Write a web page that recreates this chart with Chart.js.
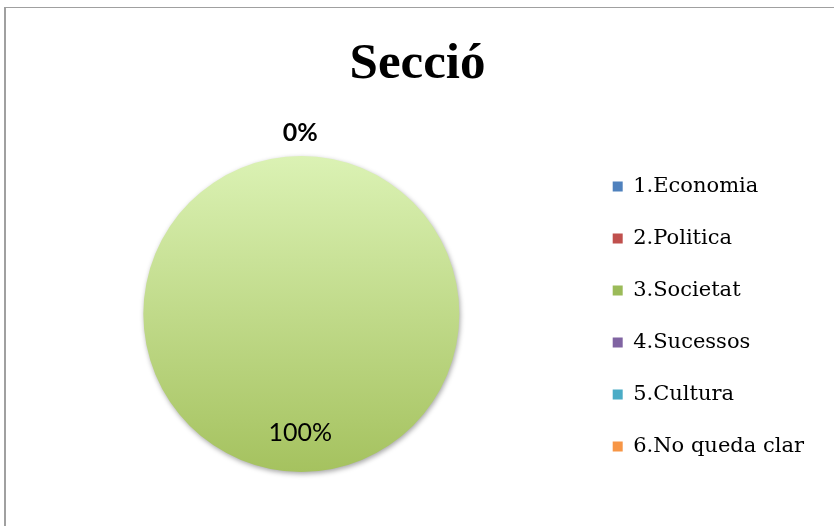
<!DOCTYPE html>
<html>
<head>
<meta charset="utf-8">
<script src="https://cdn.jsdelivr.net/npm/chart.js@4/dist/chart.umd.min.js"></script>
<style>
html,body{margin:0;padding:0;background:#fff;}
#wrap{width:834px;height:526px;position:relative;}
</style>
</head>
<body>
<div id="wrap"><canvas id="c" width="834" height="526"></canvas></div>
<script>
const chartTitle = "Secció";
const categories = ["1.Economia", "2.Politica", "3.Societat", "4.Sucessos", "5.Cultura", "6.No queda clar"];
const percentages = [0, 0, 100, 0, 0, 0];
const sliceColors = ["#4F81BD", "#C0504D", "#9BBB59", "#8064A2", "#4BACC6", "#F79646"];
const sliceLight = ["#A9C4EB", "#EFA3A1", "#DBF2B4", "#C9B8E0", "#A6E3F2", "#FCC89C"];
const sliceDark = ["#4A7EBB", "#BE4B48", "#A5C25F", "#7D60A0", "#45A8C3", "#F58C3C"];

const framePlugin = {
  id: 'frame',
  beforeDraw(chart) {
    const ctx = chart.ctx;
    ctx.save();
    ctx.fillStyle = '#fff';
    ctx.fillRect(0, 0, chart.width, chart.height);
    ctx.strokeStyle = '#a0a0a0';
    ctx.lineWidth = 1;
    ctx.beginPath();
    ctx.moveTo(4, 7.5); ctx.lineTo(chart.width, 7.5);
    ctx.stroke();
    ctx.lineWidth = 2;
    ctx.beginPath();
    ctx.moveTo(5, 7); ctx.lineTo(5, chart.height);
    ctx.stroke();
    ctx.restore();
  }
};

const shadowPlugin = {
  id: 'pieShadow',
  beforeDatasetsDraw(chart) {
    const ctx = chart.ctx;
    ctx.save();
    ctx.shadowColor = 'rgba(0,0,0,0.35)';
    ctx.shadowBlur = 5;
    ctx.shadowOffsetX = 1;
    ctx.shadowOffsetY = 2;
  },
  afterDatasetsDraw(chart) {
    chart.ctx.restore();
  }
};

const labelPlugin = {
  id: 'pctLabels',
  afterDatasetsDraw(chart) {
    const ctx = chart.ctx;
    const meta = chart.getDatasetMeta(0);
    const seen = new Set();
    ctx.save();
    ctx.textAlign = 'center';
    ctx.textBaseline = 'middle';
    ctx.fillStyle = '#000';
    meta.data.forEach((arc, i) => {
      const v = percentages[i];
      const p = arc.getProps(['x', 'y', 'startAngle', 'endAngle', 'outerRadius'], true);
      let x, y, font;
      if (v === 0) {
        const a = p.startAngle;
        const r = p.outerRadius + 23;
        x = p.x + Math.cos(a) * r;
        y = p.y + Math.sin(a) * r;
        font = 'bold 25px Lato';
      } else {
        const a = (p.startAngle + p.endAngle) / 2;
        const r = p.outerRadius * 0.75;
        x = p.x + Math.cos(a) * r;
        y = p.y + Math.sin(a) * r;
        font = '25px Lato';
      }
      const key = Math.round(x) + ',' + Math.round(y);
      if (seen.has(key)) return;
      seen.add(key);
      ctx.font = font;
      ctx.fillText(v + '%', x - 1, y);
    });
    ctx.restore();
  }
};

new Chart(document.getElementById('c'), {
  type: 'pie',
  data: {
    labels: categories,
    datasets: [{
      data: percentages,
      radius: 158,
      backgroundColor: (c) => {
        const i = c.dataIndex;
        const chart = c.chart;
        const area = chart.chartArea;
        if (!area || i === undefined) return sliceColors[i] || sliceColors[0];
        const cy = (area.top + area.bottom) / 2;
        const g = chart.ctx.createLinearGradient(0, cy - 158, 0, cy + 158);
        g.addColorStop(0, sliceLight[i]);
        g.addColorStop(1, sliceDark[i]);
        return g;
      },
      borderWidth: 0
    }]
  },
  options: {
    responsive: false,
    animation: false,
    rotation: 0,
    layout: { padding: { left: 21, right: 20, top: 0, bottom: 38 } },
    plugins: {
      title: {
        display: true,
        text: chartTitle,
        color: '#000',
        font: { family: 'Liberation Serif', size: 51, weight: 'bold', lineHeight: 1.2 },
        padding: { top: 34, bottom: 44.8 }
      },
      legend: {
        display: true,
        position: 'right',
        align: 'end',
        fullSize: true,
        labels: {
          color: '#000',
          font: { family: 'DejaVu Serif', size: 21 },
          boxWidth: 10,
          boxHeight: 10,
          padding: 31,
          generateLabels: (chart) => categories.map((t, i) => ({
            text: t,
            fillStyle: sliceColors[i],
            strokeStyle: sliceColors[i],
            lineWidth: 0,
            hidden: false,
            index: i
          }))
        }
      },
      tooltip: { enabled: false }
    }
  },
  plugins: [framePlugin, shadowPlugin, labelPlugin]
});
</script>
</body>
</html>
